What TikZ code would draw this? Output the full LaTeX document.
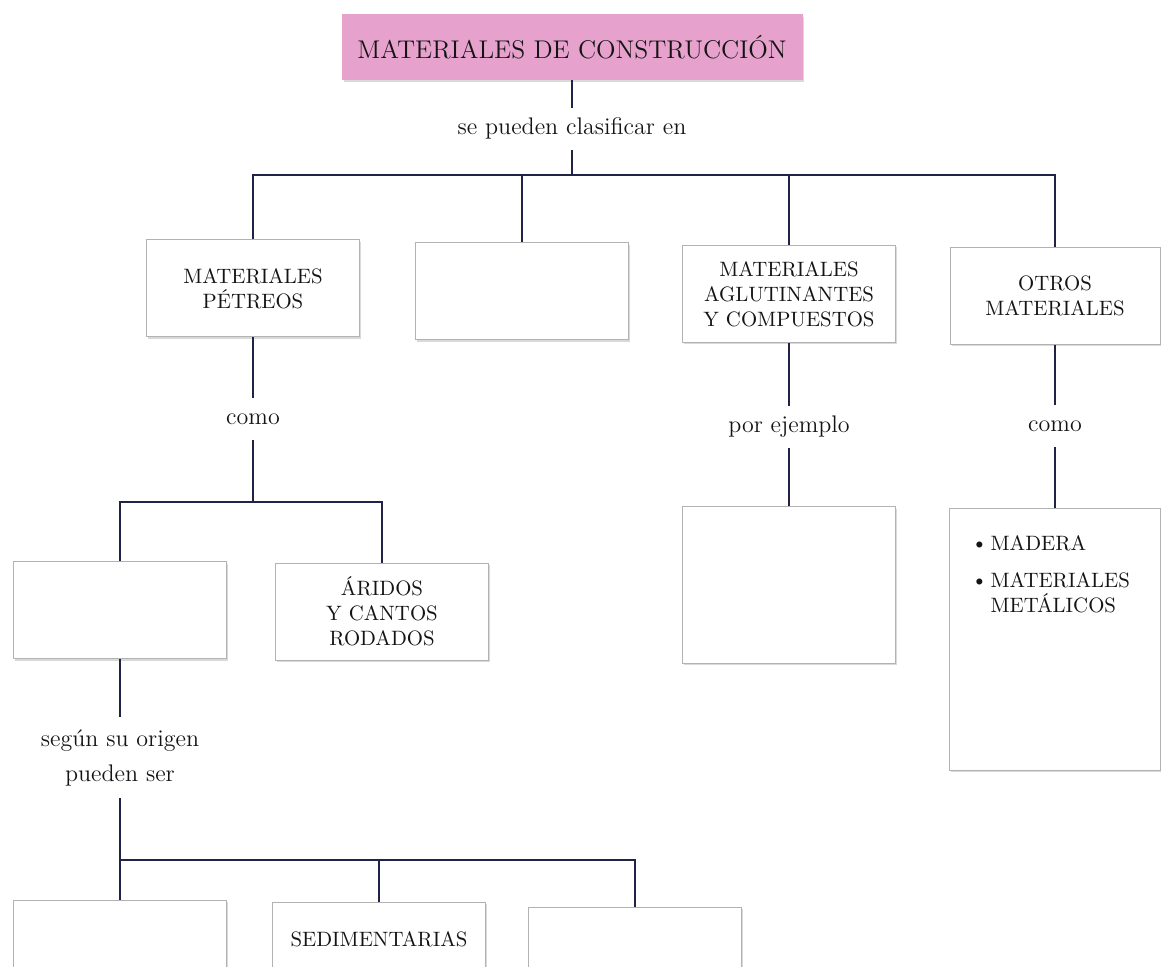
\documentclass[tikz,border=0pt]{standalone}
\usepackage{fontspec}
\usepackage{tikz}
\usetikzlibrary{
  positioning,
  shadows,
  calc
}
\definecolor{navy}{RGB}{32,34,72}
\definecolor{pinkbox}{RGB}{230,162,204}
\definecolor{ink}{RGB}{20,20,20}
\tikzset{
  box/.style={draw=black!30, line width=0.5pt, fill=white, inner sep=0pt,
    minimum width=106.5pt, minimum height=48.5pt, align=center, text=ink,
    font=\fontsize{10.4}{12.5}\selectfont,
    drop shadow={shadow xshift=0.8pt, shadow yshift=-1pt, opacity=0.3}},
  lbltxt/.style={inner xsep=2pt, text=ink, font=\fontsize{12}{17.5}\selectfont},
  lbl/.style={lbltxt, inner ysep=5pt, text height=8.5pt, text depth=2.5pt, anchor=base},
  link/.style={draw=navy, line width=1pt}
}

\begin{document}
\begin{tikzpicture}[x=0.5pt, y=-0.5pt]
  \useasboundingbox (0,0) rectangle (1161,967);
  \clip (0,0) rectangle (1161,967);

  % top level
  \node[box, fill=pinkbox, draw=pinkbox, minimum width=230pt, minimum height=32.5pt, font=\fontsize{12.8}{15}\selectfont] (title) at (572,47.5) {MATERIALES DE CONSTRUCCIÓN};
  \node[lbl] (clasif) at (572,135) {se pueden clasificar en};
  \coordinate (j1) at (572,175);

  \node[box] (petreos) at (253,288.5) {MATERIALES\\PÉTREOS};
  \node[box] (tipo2) at (522,291.5) {};
  \node[box] (aglut) at (789,294) {MATERIALES\\AGLUTINANTES\\Y COMPUESTOS};
  \node[box, minimum width=105pt] (otros) at (1055,296) {OTROS\\MATERIALES};

  \draw[link] (title) -- (clasif);
  \draw[link] (clasif) -- (j1);
  \draw[link] (j1) -| (petreos);
  \draw[link] (j1) -| (tipo2);
  \draw[link] (j1) -| (aglut);
  \draw[link] (j1) -| (otros);

  % petreos branch
  \node[lbl] (como1) at (253,425) {como};
  \coordinate (j2) at (253,502);
  \node[box] (petreo1) at (120,610) {};
  \node[box] (aridos) at (382,611.5) {ÁRIDOS\\Y CANTOS\\RODADOS};
  \draw[link] (petreos) -- (como1);
  \draw[link] (como1) -- (j2);
  \draw[link] (j2) -| (petreo1);
  \draw[link] (j2) -| (aridos);

  \node[lbltxt, align=center, inner ysep=6.2pt] (origen) at (120,757.5) {según su origen\\pueden ser};
  \coordinate (j3) at (120,860);
  \node[box, minimum height=37pt] (roca1) at (120,937) {};
  \node[box, minimum height=37pt] (sedim) at (379,939) {SEDIMENTARIAS};
  \node[box, minimum height=37pt] (roca3) at (635,944) {};
  \draw[link] (petreo1) -- (origen);
  \draw[link] (origen) -- (roca1);
  \draw[link] (j3) -| (sedim);
  \draw[link] (j3) -| (roca3);

  % aglutinantes and otros
  \node[lbl] (ejemplo) at (789,433) {por ejemplo};
  \node[box, minimum height=78pt] (aglutej) at (789,585) {};
  \draw[link] (aglut) -- (ejemplo);
  \draw[link] (ejemplo) -- (aglutej);

  \node[lbl] (como2) at (1055,432) {como};
  \node[box, minimum width=105.5pt, minimum height=130.5pt] (otrosej) at (1055,639.5) {};
  \node[anchor=north west, inner sep=0pt, align=left, text=ink, font=\fontsize{10.4}{12.5}\selectfont] (lista) at (975,535)
    {\raisebox{0.8pt}{$\scriptstyle\bullet$}\hspace{3.5pt}MADERA\\[6pt]
     \raisebox{0.8pt}{$\scriptstyle\bullet$}\hspace{3.5pt}MATERIALES\\
     \hphantom{\raisebox{0.8pt}{$\scriptstyle\bullet$}\hspace{3.5pt}}METÁLICOS};
  \draw[link] (otros) -- (como2);
  \draw[link] (como2) -- (otrosej);
\end{tikzpicture}
\end{document}
